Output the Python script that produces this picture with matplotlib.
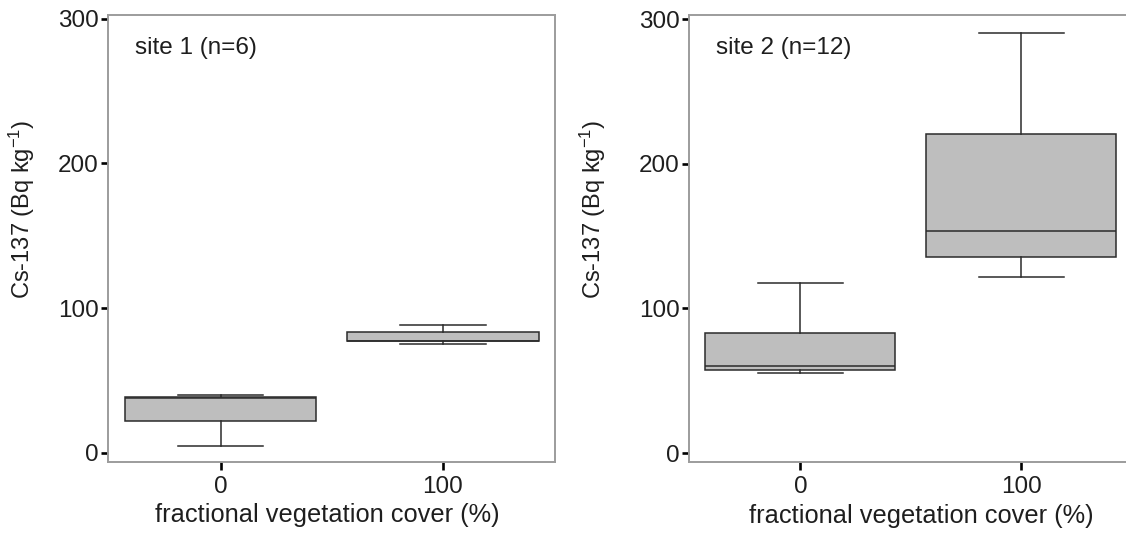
import matplotlib
matplotlib.use('Agg')
import matplotlib.pyplot as plt

plt.rcParams['font.family'] = ['Liberation Sans', 'DejaVu Sans']
plt.rcParams['mathtext.fontset'] = 'custom'
plt.rcParams['mathtext.rm'] = 'Liberation Sans'
plt.rcParams['mathtext.it'] = 'Liberation Sans'

# vegetation cover classes (%)
cover = ['0', '100']

# box statistics per site: [0 %, 100 %]
site1_whislo = [4.7, 75.0]
site1_q1 = [21.8, 77.1]
site1_med = [38.0, 77.5]
site1_q3 = [38.4, 83.3]
site1_whishi = [39.8, 88.0]

site2_whislo = [55.3, 121.7]
site2_q1 = [57.7, 135.6]
site2_med = [60.5, 153.4]
site2_q3 = [83.1, 220.8]
site2_whishi = [117.6, 290.2]

sites = [
    ('site 1 (n=6)', site1_whislo, site1_q1, site1_med, site1_q3, site1_whishi),
    ('site 2 (n=12)', site2_whislo, site2_q1, site2_med, site2_q3, site2_whishi),
]

W, H = 1126, 535
fig = plt.figure(figsize=(W / 100, H / 100), dpi=100)

# axes rectangles in pixels: left, bottom edge (from top), width, top edge (from top)
rects = [(108.2, 461.7, 447.0, 15.3), (688.9, 462.3, 444.0, 15.4)]
# y-label and x-label anchor positions (axes fraction) per panel
ylab_pos = [(-0.16, 0.565), (-0.183, 0.565)]
xlab_pos = [(0.49, -0.093), (0.523, -0.093)]

frame_col = '#9c9c9c'
line_col = '#2b2b2b'
text_col = '#1e1e1e'

for k, ((x0, ybot, w, ytop), (title, lo, q1, med, q3, hi)) in enumerate(zip(rects, sites)):
    ax = fig.add_axes([x0 / W, (H - ybot) / H, w / W, (ybot - ytop) / H])
    stats = []
    for i in range(len(cover)):
        stats.append(dict(whislo=lo[i], q1=q1[i], med=med[i], q3=q3[i],
                          whishi=hi[i], fliers=[], label=cover[i]))
    ax.bxp(stats, positions=[0, 1], widths=0.86, capwidths=0.385,
           patch_artist=True, showfliers=False,
           boxprops=dict(facecolor='#bebebe', edgecolor=line_col, linewidth=1.1),
           medianprops=dict(color=line_col, linewidth=1.1),
           whiskerprops=dict(color=line_col, linewidth=1.1),
           capprops=dict(color=line_col, linewidth=1.1))

    ax.set_xlim(-0.505, 1.505)
    ax.set_ylim(-6.3, 302.5)
    ax.set_yticks([0, 100, 200, 300])
    ax.set_xticks([0, 1])
    ax.set_xticklabels(cover)
    for sp in ax.spines.values():
        sp.set_color(frame_col)
        sp.set_linewidth(1.4)
    ax.tick_params(axis='both', direction='out', width=1.9,
                   color='black', labelsize=17.5, labelcolor=text_col)
    ax.tick_params(axis='y', length=5.2, pad=1.5)
    ax.tick_params(axis='x', length=6, pad=4)

    ax.set_ylabel('Cs-137 (Bq kg$^{-1}$)', fontsize=17, color=text_col)
    ax.yaxis.set_label_coords(*ylab_pos[k])
    ax.set_xlabel('fractional vegetation cover (%)', fontsize=18.3, color=text_col)
    ax.xaxis.set_label_coords(*xlab_pos[k])
    ax.text(0.061, 0.927, title, transform=ax.transAxes, fontsize=17.5,
            color=text_col, va='center', ha='left')

fig.savefig('out.png', dpi=100)
